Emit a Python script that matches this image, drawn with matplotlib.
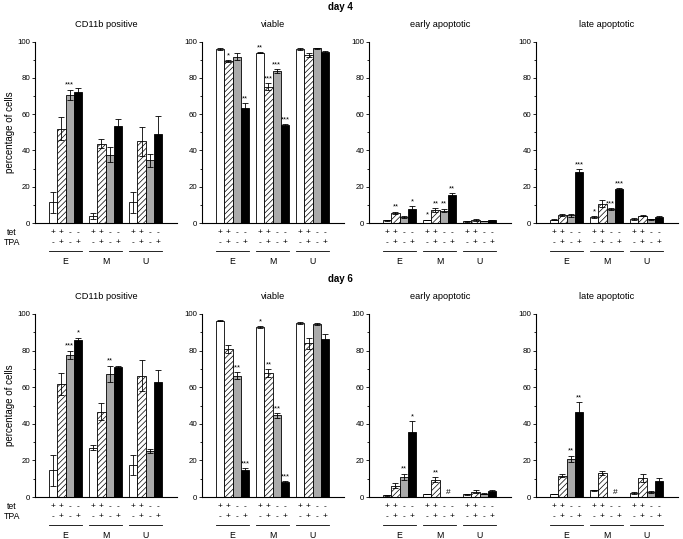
import matplotlib
matplotlib.use("Agg")
import matplotlib.pyplot as plt
import matplotlib.transforms as mtrans
import numpy as np

plt.rcParams['font.family'] = ['Liberation Sans', 'DejaVu Sans']
plt.rcParams['hatch.linewidth'] = 0.5

groups = ['E', 'M', 'U']
tetSigns = ['+', '+', '-', '-']
tpaSigns = ['-', '+', '-', '+']
panelTitles = ['CD11b positive', 'viable', 'early apoptotic', 'late apoptotic']
dayTitles = ['day 4', 'day 6']

# day 4 (rows: E, M, U; columns: the four conditions)
d4_cd11b = [[11.4, 52.0, 70.5, 72.0], [4.0, 43.7, 37.6, 53.6], [11.4, 45.0, 34.5, 49.0]]
d4_cd11b_err = [[5.8, 6.3, 2.9, 2.3], [1.6, 2.4, 4.2, 3.5], [5.8, 8.0, 3.5, 9.8]]
d4_cd11b_sig = [['', '', '***', ''], ['', '', '', ''], ['', '', '', '']]

d4_viable = [[96.1, 89.4, 91.7, 63.3], [94.0, 75.2, 83.8, 54.1], [96.1, 92.5, 96.3, 94.3]]
d4_viable_err = [[0.5, 0.5, 1.8, 2.8], [0.3, 2.0, 1.0, 0.4], [0.5, 1.0, 0.3, 0.3]]
d4_viable_sig = [['', '*', '', '**'], ['**', '***', '***', '***'], ['', '', '', '']]

d4_early = [[1.5, 5.5, 3.3, 7.9], [1.7, 7.0, 6.8, 15.2], [1.0, 1.8, 1.1, 1.5]]
d4_early_err = [[0.3, 0.6, 0.8, 1.3], [0.2, 1.0, 1.0, 1.2], [0.2, 0.5, 0.2, 0.2]]
d4_early_sig = [['', '**', '', '*'], ['*', '**', '**', '**'], ['', '', '', '']]

d4_late = [[1.8, 4.4, 4.2, 27.9], [3.3, 10.6, 7.7, 18.7], [2.2, 4.0, 2.0, 3.3]]
d4_late_err = [[0.2, 0.5, 1.0, 1.8], [0.3, 2.0, 0.5, 0.5], [0.3, 0.4, 0.2, 0.3]]
d4_late_sig = [['', '', '', '***'], ['*', '', '***', '***'], ['', '', '', '']]

# day 6 (nan = not determined, marked with #)
d6_cd11b = [[14.6, 62.0, 77.6, 85.8], [27.0, 46.6, 67.2, 71.0], [17.5, 66.3, 25.0, 63.0]]
d6_cd11b_err = [[8.5, 6.0, 2.2, 1.1], [1.2, 4.6, 4.6, 0.8], [5.5, 8.6, 1.2, 6.6]]
d6_cd11b_sig = [['', '', '***', '*'], ['', '', '**', ''], ['', '', '', '']]

d6_viable = [[96.4, 80.9, 66.3, 14.6], [92.7, 67.8, 44.6, 8.2], [95.1, 84.0, 94.7, 86.5]]
d6_viable_err = [[0.2, 2.3, 1.8, 1.2], [0.5, 2.0, 1.3, 0.5], [0.6, 3.0, 0.6, 2.3]]
d6_viable_sig = [['', '', '***', '***'], ['*', '**', '***', '***'], ['', '', '', '']]

d6_early = [[0.9, 6.2, 10.9, 35.5], [1.6, 9.5, np.nan, np.nan], [1.6, 2.9, 1.8, 3.1]]
d6_early_err = [[0.2, 1.5, 1.7, 6.0], [0.2, 1.4, np.nan, np.nan], [0.3, 0.8, 0.3, 0.8]]
d6_early_sig = [['', '', '**', '*'], ['', '**', '', ''], ['', '', '', '']]

d6_late = [[1.6, 11.5, 20.8, 46.4], [3.6, 13.1, np.nan, np.nan], [2.2, 10.4, 2.7, 8.6]]
d6_late_err = [[0.2, 0.8, 1.8, 5.3], [0.3, 1.2, np.nan, np.nan], [0.3, 2.2, 0.5, 1.7]]
d6_late_sig = [['', '', '**', '**'], ['', '', '', ''], ['', '', '', '']]

panels = [
    [(d4_cd11b, d4_cd11b_err, d4_cd11b_sig), (d4_viable, d4_viable_err, d4_viable_sig),
     (d4_early, d4_early_err, d4_early_sig), (d4_late, d4_late_err, d4_late_sig)],
    [(d6_cd11b, d6_cd11b_err, d6_cd11b_sig), (d6_viable, d6_viable_err, d6_viable_sig),
     (d6_early, d6_early_err, d6_early_sig), (d6_late, d6_late_err, d6_late_sig)],
]

W, H = 683, 539
barStyles = [dict(color='white'), dict(color='white', hatch='//////'),
             dict(color='#aaaaaa'), dict(color='black')]
groupStep = 4.86


def drawPanel(ax, means, errs, sigs, title, showYlabel):
    means = np.array(means, dtype=float)
    errs = np.array(errs, dtype=float)
    for g in range(3):
        for i in range(4):
            x = g * groupStep + i + 0.5
            m = means[g, i]
            if np.isnan(m):
                continue
            ax.bar(x, m, width=1.0, edgecolor='black', linewidth=0.6, zorder=2, **barStyles[i])
            ax.errorbar(x, m, yerr=errs[g, i], color='black', elinewidth=0.6,
                        capsize=2.2, capthick=0.6, zorder=3)
            if sigs[g][i]:
                ax.text(x, m + errs[g, i] + 0.6, sigs[g][i], ha='center', va='bottom',
                        fontsize=5.3, zorder=4)
        if np.isnan(means[g]).any():
            ax.text(g * groupStep + 3.1, 0.8, '#', ha='center', va='bottom', fontsize=6)

    ax.set_xlim(-1.7, 2 * groupStep + 4 + 1.8)
    ax.set_ylim(0, 100)
    ax.set_xticks([])
    ax.set_yticks(np.arange(0, 101, 20))
    ax.set_yticks(np.arange(10, 100, 20), minor=True)
    ax.tick_params(axis='y', which='major', labelsize=5.7, length=2.5, width=0.6, pad=0.8)
    ax.tick_params(axis='y', which='minor', length=1.8, width=0.6)
    for s in ['top', 'right']:
        ax.spines[s].set_visible(False)
    for s in ['left', 'bottom']:
        ax.spines[s].set_linewidth(0.8)

    hgt = ax.get_position().height * H
    ax.text(0.5, 1 + 17.5 / hgt, title, transform=ax.transAxes, ha='center', va='center',
            fontsize=6.7)
    if showYlabel:
        ax.set_ylabel('percentage of cells', fontsize=7, labelpad=2)

    # tet / TPA annotation under the bars
    trans = ax.get_xaxis_transform()
    for g in range(3):
        for i in range(4):
            x = g * groupStep + i + 0.5
            ax.text(x, -9.5 / hgt, tetSigns[i], transform=trans, ha='center', va='center',
                    fontsize=6)
            ax.text(x, -19.5 / hgt, tpaSigns[i], transform=trans, ha='center', va='center',
                    fontsize=6)
        x0 = g * groupStep
        ax.plot([x0, x0 + 4], [-28 / hgt, -28 / hgt], transform=trans, color='black',
                linewidth=0.6, clip_on=False)
        ax.text(x0 + 2, -38.5 / hgt, groups[g], transform=trans, ha='center', va='center',
                fontsize=6.3)
    if showYlabel:
        fig = ax.figure
        blend = mtrans.blended_transform_factory(fig.transFigure, ax.transAxes)
        fig.text(12 / W, -9.5 / hgt, 'tet', transform=blend, ha='center', va='center', fontsize=6.3)
        fig.text(12 / W, -19.5 / hgt, 'TPA', transform=blend, ha='center', va='center', fontsize=6.3)


fig = plt.figure(figsize=(W / 100, H / 100), dpi=100)
lefts = [35, 202, 369, 536]
rowZero = [223, 497]
rowTop = [41.7, 314]
for r in range(2):
    for c in range(4):
        bottom = 1 - rowZero[r] / H
        height = (rowZero[r] - rowTop[r]) / H
        ax = fig.add_axes([lefts[c] / W, bottom, 142 / W, height])
        means, errs, sigs = panels[r][c]
        drawPanel(ax, means, errs, sigs, panelTitles[c], c == 0)

fig.text(340 / W, 1 - 6.5 / H, dayTitles[0], ha='center', va='center', fontsize=7, fontweight='bold')
fig.text(340 / W, 1 - 279 / H, dayTitles[1], ha='center', va='center', fontsize=7, fontweight='bold')

fig.savefig('out.png', dpi=100)
